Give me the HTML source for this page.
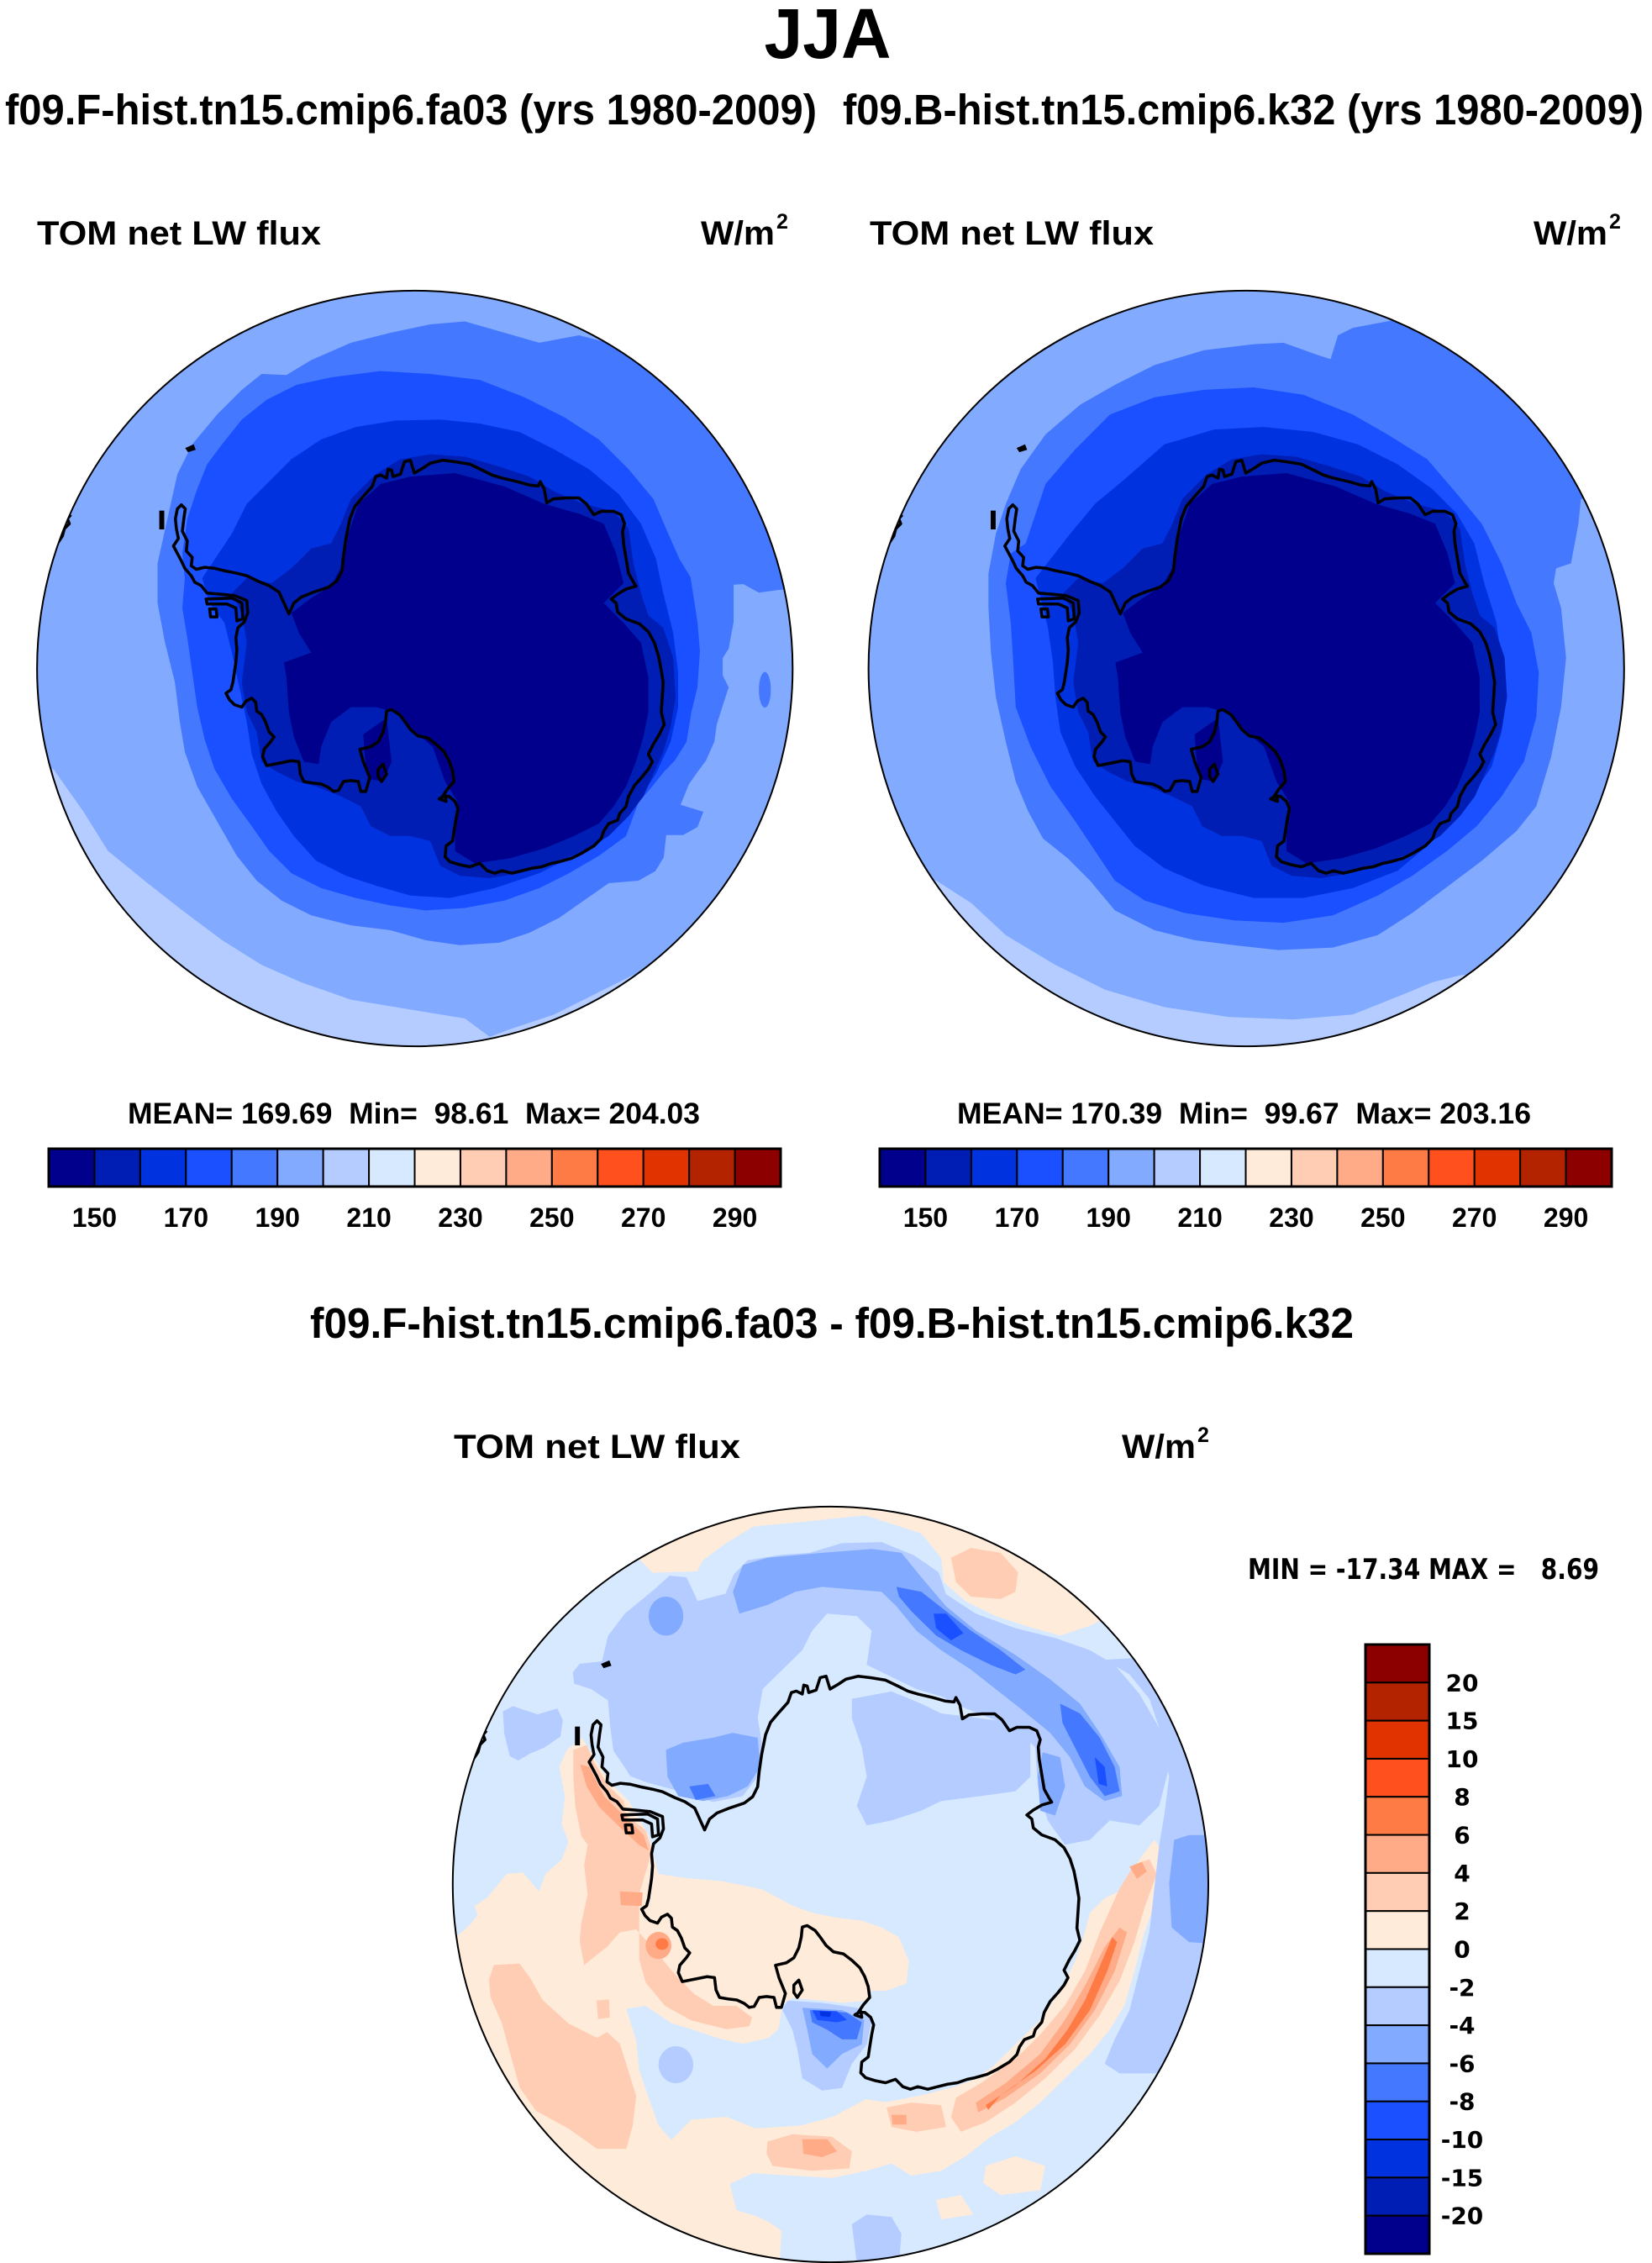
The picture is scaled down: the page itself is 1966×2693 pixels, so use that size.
<!DOCTYPE html>
<html>
<head>
<meta charset="utf-8">
<style>
html,body{margin:0;padding:0;background:#fff;}
svg{display:block;}
.h{font-family:"Liberation Sans",Arial,sans-serif;font-weight:bold;fill:#000;white-space:pre;}
.d{font-family:"DejaVu Sans","Liberation Sans",sans-serif;font-weight:bold;fill:#000;white-space:pre;}
</style>
</head>
<body>
<svg width="1966" height="2693" viewBox="0 0 1966 2693" xmlns="http://www.w3.org/2000/svg">
<defs>
<clipPath id="cL"><circle cx="493.7" cy="795.5" r="449.6"/></clipPath>
<clipPath id="cR"><circle cx="1483.2" cy="795.5" r="449.6"/></clipPath>
<clipPath id="cB"><circle cx="988.4" cy="2242.5" r="449.6"/></clipPath>
<g id="coast">
<path fill="none" stroke="#000" stroke-width="6" stroke-linejoin="round" d="M 298,442 L 306,450 L 303,470 L 300,495 L 310,515 L 308,535 L 320,548 L 318,565 L 328,572 L 345,568 L 365,570 L 385,575 L 410,580 L 430,585 L 455,597 L 475,605 L 495,618 L 505,640 L 515,662 L 525,640 L 540,628 L 565,618 L 595,608 L 612,595 L 622,575 L 625,545 L 630,510 L 638,470 L 648,445 L 665,425 L 683,405 L 690,385 L 700,382 L 712,388 L 715,370 L 722,372 L 725,385 L 740,380 L 748,355 L 760,352 L 768,378 L 785,368 L 800,358 L 825,352 L 850,355 L 880,360 L 905,372 L 925,382 L 945,388 L 975,395 L 1000,402 L 1018,404 L 1022,395 L 1030,410 L 1035,438 L 1048,430 L 1075,428 L 1100,428 L 1115,440 L 1130,462 L 1145,455 L 1170,455 L 1185,462 L 1192,480 L 1188,495 L 1190,520 L 1195,550 L 1200,580 L 1210,598 L 1215,606 L 1195,612 L 1178,622 L 1165,632 L 1175,640 L 1178,658 L 1195,672 L 1222,682 L 1240,698 L 1252,720 L 1260,745 L 1265,770 L 1270,800 L 1268,830 L 1266,860 L 1272,885 L 1262,905 L 1250,925 L 1240,945 L 1248,960 L 1240,975 L 1228,990 L 1212,1008 L 1200,1030 L 1195,1050 L 1182,1065 L 1178,1078 L 1160,1085 L 1150,1100 L 1145,1115 L 1130,1130 L 1105,1145 L 1085,1155 L 1060,1162 L 1045,1165 L 1025,1172 L 1005,1175 L 985,1180 L 965,1185 L 945,1180 L 930,1185 L 915,1180 L 900,1165 L 880,1172 L 860,1168 L 840,1162 L 830,1152 L 832,1130 L 845,1120 L 848,1100 L 852,1075 L 856,1055 L 850,1040 L 838,1030 L 825,1030 L 835,1015 L 848,1000 L 845,978 L 838,958 L 828,940 L 812,925 L 795,912 L 775,908 L 760,895 L 748,878 L 738,865 L 722,855 L 712,858 L 710,878 L 705,900 L 695,920 L 680,930 L 658,935 L 665,960 L 678,992 L 670,1020 L 660,1020 L 655,1000 L 640,998 L 625,1000 L 615,1018 L 605,1020 L 595,1012 L 580,1005 L 562,1003 L 545,1000 L 538,985 L 535,960 L 520,958 L 500,962 L 485,965 L 470,968 L 462,950 L 465,935 L 478,920 L 485,910 L 475,900 L 468,880 L 460,865 L 450,858 L 448,840 L 440,832 L 428,838 L 420,850 L 405,845 L 395,835 L 388,822 L 398,815 L 402,800 L 405,780 L 408,760 L 410,735 L 408,710 L 412,690 L 425,678 L 432,660 L 430,635 L 405,625 L 375,622 L 350,620 L 338,605 L 325,598 L 318,585 L 305,570 L 298,555 L 290,540 L 282,525 L 292,510 L 288,490 L 286,470 L 290,450 Z"/>
<path fill="none" stroke="#000" stroke-width="6" stroke-linejoin="round" d="M 348,632 L 400,630 L 420,640 L 422,672 L 410,676 L 408,650 L 390,642 L 350,642 Z M 355,652 L 368,652 L 370,668 L 357,668 Z M 695,975 L 705,965 L 712,985 L 702,1000 L 695,990 Z M 818,1035 L 830,1028 L 832,1040 Z M 48,520 L 58,505 L 62,490 L 72,480 L 68,470 L 75,462"/>
<path fill="#000" stroke="#000" stroke-width="3" d="M 255,455 L 262,455 L 262,490 L 255,490 Z M 308,328 L 322,322 L 325,330 L 312,334 Z"/>
</g>
<path id="c2L" fill="#001eb4" d="M 620,480 L 640,430 L 690,380 L 740,350 L 800,340 L 870,345 L 940,365 L 1000,385 L 1050,415 L 1110,440 L 1170,455 L 1200,490 L 1210,560 L 1225,620 L 1240,665 L 1270,690 L 1290,750 L 1295,830 L 1285,890 L 1270,940 L 1250,985 L 1230,1030 L 1200,1070 L 1160,1110 L 1110,1140 L 1050,1165 L 980,1185 L 920,1195 L 860,1190 L 820,1170 L 800,1120 L 760,1110 L 720,1110 L 680,1090 L 660,1050 L 620,1030 L 570,1010 L 530,1000 L 490,980 L 460,960 L 450,900 L 430,860 L 420,800 L 430,720 L 420,660 L 400,620 L 430,590 L 480,600 L 520,570 L 560,530 L 600,520 Z"/>
<path id="c1L" fill="#00008c" d="M 535,700 L 520,660 L 560,630 L 600,605 L 625,560 L 635,500 L 655,440 L 700,400 L 760,385 L 850,378 L 950,405 L 1030,440 L 1100,460 L 1150,480 L 1175,540 L 1190,600 L 1150,640 L 1190,680 L 1225,720 L 1240,790 L 1240,860 L 1230,910 L 1215,960 L 1195,1010 L 1170,1050 L 1140,1085 L 1090,1110 L 1030,1135 L 960,1155 L 890,1165 L 850,1140 L 850,1090 L 855,1040 L 830,1000 L 805,930 L 770,900 L 730,860 L 690,850 L 640,850 L 600,880 L 580,930 L 575,965 L 545,960 L 525,910 L 515,860 L 510,790 L 505,760 L 560,740 Z M 665,905 L 712,872 L 722,960 L 705,1000 L 675,995 L 668,950 Z"/>
</defs>

<!-- Titles -->
<text class="h" x="985" y="69" font-size="84" text-anchor="middle" textLength="151" lengthAdjust="spacingAndGlyphs">JJA</text>
<text class="h" x="6" y="148" font-size="51" textLength="966" lengthAdjust="spacingAndGlyphs">f09.F-hist.tn15.cmip6.fa03 (yrs 1980-2009)</text>
<text class="h" x="1003" y="148" font-size="51" textLength="953" lengthAdjust="spacingAndGlyphs">f09.B-hist.tn15.cmip6.k32 (yrs 1980-2009)</text>

<text class="h" x="44" y="291" font-size="40" textLength="338" lengthAdjust="spacingAndGlyphs">TOM net LW flux</text>
<text class="h" x="834" y="291" font-size="40" textLength="88" lengthAdjust="spacingAndGlyphs">W/m</text>
<text class="h" x="924" y="272" font-size="25">2</text>
<text class="h" x="1035" y="291" font-size="40" textLength="338" lengthAdjust="spacingAndGlyphs">TOM net LW flux</text>
<text class="h" x="1825" y="291" font-size="40" textLength="88" lengthAdjust="spacingAndGlyphs">W/m</text>
<text class="h" x="1915" y="272" font-size="25">2</text>

<!-- LEFT MAP -->
<g clip-path="url(#cL)">
<g transform="translate(40,340) scale(0.59)">
<rect x="-100" y="-100" width="1800" height="1800" fill="#82aaff"/>
<path fill="#b4ccff" d="M -50,950 L 40,975 L 100,1060 L 150,1140 L 230,1205 L 300,1260 L 380,1320 L 460,1370 L 540,1405 L 640,1440 L 760,1460 L 870,1478 L 920,1515 L 960,1500 L 1050,1470 L 1150,1420 L 1210,1390 L 1400,1390 L 1400,1700 L -50,1700 Z"/>
<path fill="#4478ff" d="M 1150,113 L 1100,100 L 1020,115 L 950,95 L 870,72 L 800,78 L 720,95 L 640,115 L 560,150 L 510,180 L 460,178 L 420,210 L 370,260 L 320,320 L 290,380 L 270,470 L 250,560 L 250,640 L 265,720 L 285,800 L 295,880 L 305,940 L 330,1010 L 370,1080 L 410,1150 L 450,1200 L 500,1240 L 560,1270 L 640,1290 L 720,1300 L 790,1320 L 860,1330 L 940,1325 L 1000,1305 L 1060,1275 L 1110,1240 L 1160,1205 L 1220,1200 L 1254,1181 L 1271,1153 L 1276,1108 L 1310,1108 L 1339,1092 L 1351,1061 L 1305,1047 L 1322,1005 L 1339,981 L 1356,958 L 1373,920 L 1378,885 L 1390,847 L 1402,810 L 1390,786 L 1390,751 L 1402,732 L 1412,678 L 1412,603 L 1432,602 L 1463,619 L 1500,614 L 1650,600 L 1650,-50 L 1200,-50 Z"/>
<ellipse cx="1475" cy="815" rx="12" ry="36" fill="#4478ff"/>
<path fill="#1a50ff" d="M 380,320 L 420,270 L 470,230 L 530,200 L 600,185 L 700,172 L 800,178 L 900,190 L 990,225 L 1070,265 L 1140,310 L 1200,370 L 1250,430 L 1280,500 L 1303,552 L 1325,588 L 1339,678 L 1344,737 L 1339,810 L 1327,859 L 1317,920 L 1293,958 L 1271,981 L 1242,1017 L 1220,1042 L 1195,1110 L 1140,1150 L 1080,1185 L 1020,1215 L 950,1240 L 870,1255 L 790,1260 L 720,1250 L 650,1235 L 580,1215 L 520,1185 L 475,1140 L 440,1090 L 400,1035 L 365,975 L 345,915 L 330,850 L 320,780 L 310,710 L 300,650 L 305,590 L 300,540 L 310,470 L 330,410 L 350,360 Z"/>
<path fill="#0032e0" d="M 370,545 L 400,500 L 430,440 L 470,400 L 520,350 L 580,310 L 650,285 L 730,272 L 820,270 L 900,278 L 980,295 L 1050,330 L 1120,370 L 1180,420 L 1225,480 L 1255,550 L 1270,620 L 1290,700 L 1300,780 L 1300,850 L 1285,920 L 1255,985 L 1215,1045 L 1165,1100 L 1100,1145 L 1020,1185 L 930,1215 L 840,1235 L 760,1230 L 690,1210 L 630,1190 L 570,1160 L 525,1110 L 490,1060 L 460,1005 L 440,945 L 430,880 L 415,810 L 400,740 L 385,680 L 355,640 L 340,590 Z"/>
<use href="#c2L"/>
<use href="#c1L"/>
<use href="#coast"/>
</g>
</g>
<circle cx="493.7" cy="795.5" r="449.6" fill="none" stroke="#000" stroke-width="2"/>

<!-- RIGHT MAP -->
<g clip-path="url(#cR)">
<g transform="translate(1020,340) scale(0.59)">
<rect x="-100" y="-100" width="1800" height="1800" fill="#82aaff"/>
<path fill="#b4ccff" d="M -50,1150 L 100,1180 L 160,1200 L 230,1245 L 300,1310 L 400,1370 L 500,1420 L 620,1455 L 750,1475 L 880,1480 L 1000,1470 L 1100,1430 L 1160,1405 L 1220,1390 L 1400,1390 L 1400,1700 L -50,1700 Z"/>
<path fill="#4478ff" d="M 1100,60 L 1080,70 L 1000,85 L 970,100 L 955,148 L 930,140 L 860,115 L 800,118 L 700,130 L 600,160 L 520,200 L 450,240 L 380,300 L 330,370 L 300,440 L 280,500 L 265,580 L 265,650 L 270,740 L 280,830 L 300,920 L 320,1000 L 345,1060 L 375,1115 L 425,1155 L 470,1200 L 520,1260 L 600,1300 L 680,1320 L 760,1330 L 850,1340 L 960,1335 L 1050,1310 L 1120,1265 L 1200,1205 L 1260,1160 L 1330,1100 L 1370,1050 L 1400,950 L 1420,850 L 1430,750 L 1420,650 L 1405,600 L 1410,570 L 1440,560 L 1455,480 L 1460,430 L 1650,430 L 1650,-50 L 1150,-50 Z"/>
<path fill="#1a50ff" d="M 340,520 L 380,400 L 440,330 L 510,260 L 600,225 L 700,210 L 800,205 L 900,220 L 1000,260 L 1070,300 L 1150,350 L 1210,420 L 1260,480 L 1300,560 L 1330,640 L 1360,700 L 1375,780 L 1370,870 L 1345,960 L 1300,1030 L 1250,1090 L 1190,1140 L 1120,1190 L 1050,1230 L 960,1270 L 860,1285 L 760,1280 L 660,1265 L 580,1240 L 520,1200 L 480,1140 L 440,1080 L 390,1010 L 350,930 L 320,850 L 315,760 L 310,680 L 300,600 L 310,540 Z"/>
<path fill="#0032e0" d="M 360,590 L 430,500 L 480,440 L 540,390 L 620,320 L 720,290 L 820,285 L 920,295 L 1010,320 L 1090,360 L 1160,410 L 1210,460 L 1245,520 L 1265,600 L 1290,680 L 1300,760 L 1310,830 L 1300,900 L 1280,970 L 1240,1030 L 1200,1080 L 1150,1130 L 1090,1180 L 1000,1215 L 900,1235 L 800,1235 L 700,1210 L 620,1175 L 560,1130 L 520,1080 L 480,1030 L 440,970 L 410,900 L 400,830 L 395,760 L 385,690 L 370,630 Z"/>
<g transform="translate(16,0)">
<use href="#c2L"/>
<use href="#c1L"/>
<use href="#coast"/>
</g>
</g>
</g>
<circle cx="1483.2" cy="795.5" r="449.6" fill="none" stroke="#000" stroke-width="2"/>

<!-- Stats text -->
<text class="h" x="152" y="1337" font-size="35" textLength="681" lengthAdjust="spacingAndGlyphs">MEAN= 169.69  Min=  98.61  Max= 204.03</text>
<text class="h" x="1139" y="1337" font-size="35" textLength="683" lengthAdjust="spacingAndGlyphs">MEAN= 170.39  Min=  99.67  Max= 203.16</text>

<!-- Left colorbar -->
<g stroke="#000" stroke-width="2">
<rect x="58" y="1367" width="54.44" height="45" fill="#00008c"/>
<rect x="112.44" y="1367" width="54.44" height="45" fill="#001eb4"/>
<rect x="166.88" y="1367" width="54.44" height="45" fill="#0032e0"/>
<rect x="221.32" y="1367" width="54.44" height="45" fill="#1a50ff"/>
<rect x="275.76" y="1367" width="54.44" height="45" fill="#4478ff"/>
<rect x="330.2" y="1367" width="54.44" height="45" fill="#82aaff"/>
<rect x="384.64" y="1367" width="54.44" height="45" fill="#b4ccff"/>
<rect x="439.08" y="1367" width="54.44" height="45" fill="#d7e9ff"/>
<rect x="493.52" y="1367" width="54.44" height="45" fill="#ffebd9"/>
<rect x="547.96" y="1367" width="54.44" height="45" fill="#ffcdb4"/>
<rect x="602.4" y="1367" width="54.44" height="45" fill="#ffab87"/>
<rect x="656.84" y="1367" width="54.44" height="45" fill="#ff7b46"/>
<rect x="711.28" y="1367" width="54.44" height="45" fill="#ff501e"/>
<rect x="765.72" y="1367" width="54.44" height="45" fill="#e03300"/>
<rect x="820.16" y="1367" width="54.44" height="45" fill="#b42300"/>
<rect x="874.6" y="1367" width="54.44" height="45" fill="#8c0000"/>
<rect x="58" y="1367" width="871" height="45" fill="none" stroke-width="3"/>
</g>
<g font-size="32" text-anchor="middle">
<text class="h" x="112.4" y="1460">150</text>
<text class="h" x="221.3" y="1460">170</text>
<text class="h" x="330.2" y="1460">190</text>
<text class="h" x="439.1" y="1460">210</text>
<text class="h" x="548" y="1460">230</text>
<text class="h" x="656.8" y="1460">250</text>
<text class="h" x="765.7" y="1460">270</text>
<text class="h" x="874.6" y="1460">290</text>
</g>

<!-- Right colorbar -->
<g stroke="#000" stroke-width="2">
<rect x="1047" y="1367" width="54.44" height="45" fill="#00008c"/>
<rect x="1101.44" y="1367" width="54.44" height="45" fill="#001eb4"/>
<rect x="1155.88" y="1367" width="54.44" height="45" fill="#0032e0"/>
<rect x="1210.32" y="1367" width="54.44" height="45" fill="#1a50ff"/>
<rect x="1264.76" y="1367" width="54.44" height="45" fill="#4478ff"/>
<rect x="1319.2" y="1367" width="54.44" height="45" fill="#82aaff"/>
<rect x="1373.64" y="1367" width="54.44" height="45" fill="#b4ccff"/>
<rect x="1428.08" y="1367" width="54.44" height="45" fill="#d7e9ff"/>
<rect x="1482.52" y="1367" width="54.44" height="45" fill="#ffebd9"/>
<rect x="1536.96" y="1367" width="54.44" height="45" fill="#ffcdb4"/>
<rect x="1591.4" y="1367" width="54.44" height="45" fill="#ffab87"/>
<rect x="1645.84" y="1367" width="54.44" height="45" fill="#ff7b46"/>
<rect x="1700.28" y="1367" width="54.44" height="45" fill="#ff501e"/>
<rect x="1754.72" y="1367" width="54.44" height="45" fill="#e03300"/>
<rect x="1809.16" y="1367" width="54.44" height="45" fill="#b42300"/>
<rect x="1863.6" y="1367" width="54.44" height="45" fill="#8c0000"/>
<rect x="1047" y="1367" width="871" height="45" fill="none" stroke-width="3"/>
</g>
<g font-size="32" text-anchor="middle">
<text class="h" x="1101.4" y="1460">150</text>
<text class="h" x="1210.3" y="1460">170</text>
<text class="h" x="1319.2" y="1460">190</text>
<text class="h" x="1428.1" y="1460">210</text>
<text class="h" x="1537" y="1460">230</text>
<text class="h" x="1645.8" y="1460">250</text>
<text class="h" x="1754.7" y="1460">270</text>
<text class="h" x="1863.6" y="1460">290</text>
</g>

<!-- Bottom titles -->
<text class="h" x="369" y="1592" font-size="51" textLength="1242" lengthAdjust="spacingAndGlyphs">f09.F-hist.tn15.cmip6.fa03 - f09.B-hist.tn15.cmip6.k32</text>
<text class="h" x="540" y="1735" font-size="40" textLength="341" lengthAdjust="spacingAndGlyphs">TOM net LW flux</text>
<text class="h" x="1335" y="1735" font-size="40" textLength="88" lengthAdjust="spacingAndGlyphs">W/m</text>
<text class="h" x="1425" y="1716" font-size="25">2</text>

<text class="d" x="1485" y="1879" font-size="34" textLength="418" lengthAdjust="spacingAndGlyphs">MIN = -17.34 MAX =   8.69</text>

<!-- BOTTOM MAP -->
<g clip-path="url(#cB)">
<g transform="translate(530,1790) scale(0.59,0.579)">
<rect x="-100" y="-100" width="1800" height="1800" fill="#d7e9ff"/>
<!-- peach c9 -->
<path fill="#ffebd9" d="M 390,-50 L 390,112 L 418,141 L 508,138 L 520,115 L 565,81 L 621,46 L 734,35 L 847,23 L 960,60 L 1000,110 L 1005,160 L 1050,200 L 1110,230 L 1170,250 L 1240,270 L 1300,250 L 1400,200 L 1400,-50 Z"/>
<path fill="#ffebd9" d="M -50,880 L 26,886 L 52,862 L 65,844 L 59,826 L 85,808 L 124,760 L 156,757 L 189,796 L 202,760 L 235,730 L 248,694 L 235,658 L 241,600 L 230,540 L 245,505 L 275,480 L 300,520 L 330,570 L 370,610 L 410,680 L 430,760 L 480,768 L 560,775 L 640,792 L 700,825 L 740,840 L 790,850 L 840,856 L 880,870 L 915,890 L 935,940 L 930,985 L 890,1000 L 860,1000 L 850,1020 L 800,1025 L 760,1020 L 700,1015 L 680,1030 L 672,1079 L 652,1097 L 600,1109 L 548,1097 L 496,1079 L 456,1067 L 404,1031 L 365,1037 L 385,1103 L 391,1163 L 411,1223 L 430,1277 L 456,1307 L 496,1265 L 567,1259 L 626,1283 L 717,1277 L 782,1259 L 848,1223 L 887,1229 L 960,1215 L 1020,1200 L 1060,1185 L 1100,1160 L 1150,1110 L 1200,1060 L 1240,1000 L 1270,940 L 1290,880 L 1300,840 L 1330,810 L 1370,790 L 1400,730 L 1430,690 L 1450,720 L 1440,800 L 1410,880 L 1390,960 L 1370,1030 L 1340,1080 L 1300,1130 L 1250,1180 L 1200,1230 L 1150,1270 L 1100,1300 L 1050,1340 L 1000,1370 L 940,1380 L 900,1355 L 850,1370 L 780,1385 L 700,1380 L 620,1375 L 574,1397 L 587,1451 L 626,1463 L 652,1475 L 678,1493 L 672,1600 L -50,1600 Z"/>
<path fill="#ffebd9" d="M 1090,1360 L 1150,1340 L 1210,1360 L 1200,1410 L 1120,1420 L 1085,1395 Z M 990,1430 L 1040,1420 L 1065,1460 L 1000,1470 Z"/>
<!-- c10 -->
<path fill="#ffcdb4" d="M 98,947 L 150,944 L 173,977 L 196,1019 L 248,1067 L 306,1097 L 326,1085 L 352,1109 L 365,1151 L 385,1217 L 378,1277 L 365,1325 L 306,1325 L 248,1283 L 183,1247 L 150,1199 L 130,1127 L 114,1067 L 91,1013 L 88,977 Z"/>
<path fill="#ffcdb4" d="M 258,505 L 285,495 L 300,530 L 330,580 L 360,610 L 365,640 L 404,670 L 417,712 L 391,802 L 391,935 L 404,983 L 443,1031 L 496,1061 L 567,1079 L 613,1073 L 619,1055 L 587,1031 L 541,1031 L 502,1007 L 456,958 L 417,910 L 385,874 L 352,880 L 326,910 L 280,947 L 271,898 L 274,862 L 287,802 L 280,742 L 287,700 L 274,682 L 262,620 L 258,560 Z"/>
<path fill="#ffcdb4" d="M 1020,110 L 1060,90 L 1120,100 L 1155,140 L 1150,180 L 1120,195 L 1060,190 L 1030,160 Z"/>
<path fill="#ffcdb4" d="M 650,1310 L 700,1295 L 780,1300 L 820,1330 L 815,1365 L 740,1370 L 660,1360 L 648,1335 Z M 890,1240 L 940,1230 L 1000,1235 L 1010,1280 L 950,1290 L 900,1280 Z M 305,1020 L 330,1018 L 332,1055 L 308,1058 Z"/>
<path fill="#ffcdb4" d="M 1030,1220 L 1080,1190 L 1150,1140 L 1200,1090 L 1250,1030 L 1290,960 L 1320,880 L 1360,790 L 1390,740 L 1420,730 L 1435,760 L 1410,830 L 1390,900 L 1360,980 L 1320,1050 L 1270,1120 L 1210,1180 L 1150,1230 L 1090,1270 L 1040,1290 L 1020,1260 Z"/>
<!-- c11 -->
<path fill="#ffab87" d="M 272,535 L 290,540 L 320,600 L 360,640 L 400,680 L 410,712 L 390,700 L 350,662 L 310,622 L 285,580 Z"/>
<path fill="#ffab87" d="M 720,1305 L 770,1305 L 790,1330 L 760,1342 L 722,1335 Z M 352,796 L 398,798 L 396,826 L 354,824 Z M 1380,745 L 1405,735 L 1415,755 L 1395,770 Z M 900,1255 L 930,1255 L 930,1275 L 902,1275 Z"/>
<ellipse cx="430" cy="907" rx="26" ry="28" fill="#ffab87"/>
<path fill="#ffab87" d="M 1070,1230 L 1130,1190 L 1200,1130 L 1250,1060 L 1290,990 L 1330,910 L 1360,870 L 1375,880 L 1350,960 L 1310,1040 L 1260,1110 L 1200,1170 L 1130,1220 L 1075,1250 Z"/>
<!-- c12 -->
<ellipse cx="437" cy="904" rx="13" ry="12" fill="#ff7b46"/>
<path fill="#ff7b46" d="M 1090,1235 L 1150,1195 L 1210,1140 L 1255,1080 L 1290,1020 L 1320,950 L 1345,890 L 1355,900 L 1335,960 L 1300,1040 L 1250,1110 L 1190,1165 L 1120,1215 L 1095,1245 Z"/>
<!-- blue c7 -->
<path fill="#b4ccff" d="M 257,346 L 271,328 L 316,323 L 328,271 L 362,225 L 424,173 L 452,147 L 486,150 L 497,173 L 509,199 L 565,184 L 582,144 L 610,115 L 678,104 L 735,100 L 800,80 L 880,78 L 945,105 L 995,140 L 1010,185 L 1070,225 L 1150,255 L 1230,275 L 1300,300 L 1350,330 L 1400,390 L 1440,460 L 1460,540 L 1440,620 L 1400,660 L 1340,650 L 1300,690 L 1250,700 L 1215,650 L 1195,580 L 1190,500 L 1150,460 L 1100,440 L 1050,420 L 1000,395 L 950,380 L 890,350 L 850,330 L 860,260 L 830,230 L 770,225 L 740,260 L 720,300 L 680,340 L 640,380 L 630,440 L 640,500 L 630,560 L 600,600 L 540,612 L 480,592 L 407,572 L 373,559 L 362,541 L 339,507 L 333,461 L 328,403 L 294,380 L 260,369 Z"/>
<path fill="#b4ccff" d="M 820,400 L 900,385 L 960,410 L 1000,430 L 1080,440 L 1150,450 L 1180,470 L 1180,560 L 1150,590 L 1080,600 L 1000,610 L 960,630 L 900,650 L 850,660 L 830,620 L 850,560 L 840,500 L 820,440 Z"/>
<path fill="#b4ccff" d="M 116,426 L 136,415 L 186,432 L 226,420 L 237,444 L 232,478 L 198,501 L 170,513 L 147,527 L 130,518 L 119,472 Z"/>
<path fill="#b4ccff" d="M 1330,320 L 1380,350 L 1420,400 L 1440,460 L 1460,560 L 1450,640 L 1440,700 L 1430,790 L 1420,880 L 1400,960 L 1380,1040 L 1350,1100 L 1330,1150 L 1360,1170 L 1650,1170 L 1650,300 Z"/>
<path fill="#82aaff" d="M 1470,690 L 1500,680 L 1650,680 L 1650,910 L 1500,900 L 1465,870 L 1460,780 Z"/>
<ellipse cx="465" cy="1152" rx="35" ry="38" fill="#b4ccff"/>
<path fill="#b4ccff" d="M 820,1480 L 850,1460 L 900,1465 L 920,1500 L 915,1560 L 830,1560 Z"/>
<path fill="#b4ccff" d="M 690,1020 L 760,1025 L 830,1035 L 860,1060 L 850,1110 L 820,1150 L 800,1200 L 760,1205 L 720,1180 L 710,1120 L 700,1080 L 680,1040 Z"/>
<!-- c6 -->
<path fill="#82aaff" d="M 600,125 L 650,110 L 760,100 L 860,92 L 920,100 L 960,150 L 1010,210 L 1070,260 L 1150,310 L 1220,360 L 1280,410 L 1320,470 L 1360,540 L 1365,600 L 1330,610 L 1290,580 L 1260,520 L 1220,470 L 1160,420 L 1110,380 L 1060,340 L 1000,300 L 950,260 L 910,210 L 880,180 L 820,175 L 760,170 L 706,180 L 650,207 L 593,225 L 580,180 Z"/>
<ellipse cx="445" cy="230" rx="35" ry="40" fill="#82aaff"/>
<path fill="#82aaff" d="M 445,505 L 480,490 L 540,480 L 580,470 L 630,480 L 635,540 L 610,580 L 570,600 L 520,610 L 470,600 L 448,560 Z"/>
<path fill="#82aaff" d="M 1205,510 L 1240,520 L 1250,580 L 1230,640 L 1200,630 L 1195,560 Z"/>
<path fill="#82aaff" d="M 720,1035 L 800,1040 L 845,1060 L 840,1110 L 800,1130 L 770,1160 L 740,1130 L 730,1080 Z"/>
<!-- c5 -->
<path fill="#4478ff" d="M 910,170 L 960,180 L 1010,220 L 1060,260 L 1120,300 L 1170,340 L 1150,350 L 1100,330 L 1040,300 L 990,270 L 940,220 L 915,190 Z"/>
<path fill="#4478ff" d="M 1240,410 L 1280,430 L 1320,480 L 1350,540 L 1360,590 L 1330,600 L 1300,560 L 1270,500 L 1245,450 Z"/>
<path fill="#4478ff" d="M 735,1040 L 810,1045 L 840,1065 L 830,1100 L 800,1100 L 770,1080 L 740,1065 Z M 492,580 L 530,575 L 545,600 L 505,608 Z"/>
<!-- c4 -->
<path fill="#1a50ff" d="M 985,225 L 1010,225 L 1045,265 L 1020,280 L 990,255 Z M 1310,520 L 1330,540 L 1335,580 L 1318,575 Z M 740,1040 L 790,1042 L 810,1060 L 790,1065 L 750,1060 Z"/>
<path fill="#0032e0" d="M 755,1042 L 778,1044 L 776,1054 L 757,1052 Z"/>
</g>
<g transform="translate(988.4,2242.5) scale(0.59) translate(-769,-772)">
<use href="#coast"/>
</g>
</g>
<circle cx="988.4" cy="2242.5" r="449.6" fill="none" stroke="#000" stroke-width="2"/>

<!-- Vertical colorbar -->
<g stroke="#000" stroke-width="2">
<rect x="1625" y="1957" width="76" height="45.31" fill="#8c0000"/>
<rect x="1625" y="2002.31" width="76" height="45.31" fill="#b42300"/>
<rect x="1625" y="2047.62" width="76" height="45.31" fill="#e03300"/>
<rect x="1625" y="2092.93" width="76" height="45.31" fill="#ff501e"/>
<rect x="1625" y="2138.24" width="76" height="45.31" fill="#ff7b46"/>
<rect x="1625" y="2183.55" width="76" height="45.31" fill="#ffab87"/>
<rect x="1625" y="2228.86" width="76" height="45.31" fill="#ffcdb4"/>
<rect x="1625" y="2274.17" width="76" height="45.31" fill="#ffebd9"/>
<rect x="1625" y="2319.48" width="76" height="45.31" fill="#d7e9ff"/>
<rect x="1625" y="2364.79" width="76" height="45.31" fill="#b4ccff"/>
<rect x="1625" y="2410.1" width="76" height="45.31" fill="#82aaff"/>
<rect x="1625" y="2455.41" width="76" height="45.31" fill="#4478ff"/>
<rect x="1625" y="2500.72" width="76" height="45.31" fill="#1a50ff"/>
<rect x="1625" y="2546.03" width="76" height="45.31" fill="#0032e0"/>
<rect x="1625" y="2591.34" width="76" height="45.31" fill="#001eb4"/>
<rect x="1625" y="2636.65" width="76" height="45.35" fill="#00008c"/>
<rect x="1625" y="1957" width="76" height="725" fill="none" stroke-width="3"/>
</g>
<g font-size="28" text-anchor="middle">
<text class="d" x="1740" y="2012.3">20</text>
<text class="d" x="1740" y="2057.6">15</text>
<text class="d" x="1740" y="2102.9">10</text>
<text class="d" x="1740" y="2148.2">8</text>
<text class="d" x="1740" y="2193.6">6</text>
<text class="d" x="1740" y="2238.9">4</text>
<text class="d" x="1740" y="2284.2">2</text>
<text class="d" x="1740" y="2329.5">0</text>
<text class="d" x="1740" y="2374.8">-2</text>
<text class="d" x="1740" y="2420.1">-4</text>
<text class="d" x="1740" y="2465.4">-6</text>
<text class="d" x="1740" y="2510.7">-8</text>
<text class="d" x="1740" y="2556">-10</text>
<text class="d" x="1740" y="2601.3">-15</text>
<text class="d" x="1740" y="2646.6">-20</text>
</g>
</svg>
</body>
</html>
